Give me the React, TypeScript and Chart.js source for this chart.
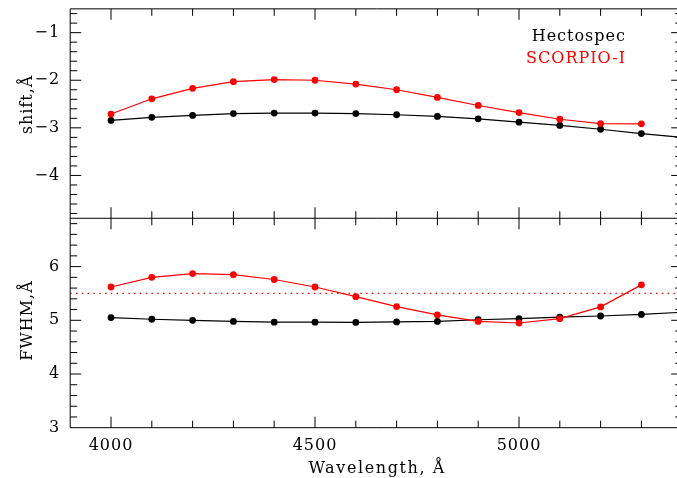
import { useEffect, useRef } from 'react';
import { Chart, registerables } from 'chart.js';

Chart.register(...registerables);

// ---- data ----
const WAVELENGTHS = [4000, 4100, 4200, 4300, 4400, 4500, 4600, 4700, 4800, 4900, 5000, 5100, 5200, 5300];
const HECTOSPEC_SHIFT = [-2.845, -2.78, -2.74, -2.7, -2.69, -2.69, -2.7, -2.725, -2.76, -2.81, -2.88, -2.95, -3.03, -3.12];
const SCORPIO_SHIFT = [-2.71, -2.39, -2.17, -2.03, -1.985, -2.0, -2.08, -2.2, -2.36, -2.53, -2.68, -2.82, -2.91, -2.915];
const HECTOSPEC_FWHM = [5.05, 5.02, 5.0, 4.98, 4.965, 4.965, 4.96, 4.97, 4.98, 5.01, 5.03, 5.06, 5.08, 5.11];
const SCORPIO_FWHM = [5.62, 5.8, 5.87, 5.85, 5.76, 5.62, 5.44, 5.255, 5.1, 4.98, 4.95, 5.03, 5.25, 5.66];
const HECTOSPEC_FIT_END_WAVE = 5400;
const HECTOSPEC_SHIFT_FIT_END = -3.2;
const HECTOSPEC_FWHM_FIT_END = 5.15;
const FWHM_REFERENCE = 5.5;

const X_RANGE = [3900, 5400];
const SHIFT_RANGE = [-4.9, -0.5];
const FWHM_RANGE = [3, 6.9];
const X_TICK_LABELS = [4000, 4500, 5000];
const SHIFT_TICK_LABELS = [-4, -3, -2, -1];
const FWHM_TICK_LABELS = [3, 4, 5, 6];
const SERIES_NAMES = ['Hectospec', 'SCORPIO-I'];
const X_TITLE = 'Wavelength, Å';
const SHIFT_TITLE = 'shift,Å';
const FWHM_TITLE = 'FWHM,Å';

const FONT = 'DejaVu Serif';
const RED = '#ff0000';
const BLACK = '#000000';

const toXY = (ys: number[]) => WAVELENGTHS.map((x, i) => ({ x, y: ys[i] }));

const fmt = (v: number) => (v < 0 ? '\u2212' + Math.abs(v) : String(v));

const framePlugin = {
  id: 'frame',
  beforeLayout(chart: any) {
    chart.ctx.letterSpacing = '1px';
  },
  beforeDraw(chart: any) {
    chart.ctx.letterSpacing = '1px';
  },
  afterDraw(chart: any) {
    const ctx = chart.ctx as CanvasRenderingContext2D;
    const { left, right, top, bottom } = chart.chartArea;
    const xs = chart.scales.x;
    const yS = chart.scales.yShift;
    const yF = chart.scales.yFwhm;
    const mid = yS.bottom;
    ctx.save();
    ctx.strokeStyle = BLACK;
    ctx.lineWidth = 1;
    ctx.beginPath();
    ctx.rect(left, top, right - left, bottom - top);
    ctx.moveTo(left, mid);
    ctx.lineTo(right, mid);
    ctx.stroke();

    ctx.beginPath();
    for (let v = X_RANGE[0] + 100; v < X_RANGE[1]; v += 100) {
      const px = xs.getPixelForValue(v);
      const len = v % 500 === 0 ? 11 : 7;
      ctx.moveTo(px, top);
      ctx.lineTo(px, top + len);
      ctx.moveTo(px, mid - len);
      ctx.lineTo(px, mid + len);
      ctx.moveTo(px, bottom - len);
      ctx.lineTo(px, bottom);
    }
    const yTicks = (scale: any, lo: number, hi: number) => {
      const i0 = Math.ceil(lo * 5 + 1e-6);
      const i1 = Math.floor(hi * 5 - 1e-6);
      for (let i = i0; i <= i1; i++) {
        const v = i / 5;
        const py = scale.getPixelForValue(v);
        const len = i % 5 === 0 ? 11 : 7;
        ctx.moveTo(left, py);
        ctx.lineTo(left + len, py);
        ctx.moveTo(right - len, py);
        ctx.lineTo(right, py);
      }
    };
    yTicks(yS, SHIFT_RANGE[0], SHIFT_RANGE[1]);
    yTicks(yF, FWHM_RANGE[0], FWHM_RANGE[1]);
    ctx.stroke();

    ctx.letterSpacing = '1px';
    ctx.font = `16px "${FONT}"`;
    ctx.textBaseline = 'alphabetic';
    ctx.textAlign = 'right';
    ctx.fillStyle = BLACK;
    ctx.fillText(SERIES_NAMES[0], 626, 40.5);
    ctx.fillStyle = RED;
    ctx.fillText(SERIES_NAMES[1], 626, 62.5);

    ctx.fillStyle = BLACK;
    ctx.textAlign = 'center';
    ctx.letterSpacing = '1.6px';
    ctx.fillText(X_TITLE, (left + right) / 2 + 1, 473.3);
    ctx.letterSpacing = '1px';

    ctx.save();
    ctx.translate(31.7, 104.5);
    ctx.rotate(-Math.PI / 2);
    ctx.fillText(SHIFT_TITLE, 0, 0);
    ctx.restore();
    ctx.save();
    ctx.translate(31.7, 320.5);
    ctx.rotate(-Math.PI / 2);
    ctx.fillText(FWHM_TITLE, 0, 0);
    ctx.restore();

    ctx.restore();
  },
};

export default function App() {
  const ref = useRef<HTMLCanvasElement | null>(null);

  useEffect(() => {
    if (!ref.current) return;
    const tickFont = { family: FONT, size: 16 };
    const pointR = (c: any) => (c.dataIndex < WAVELENGTHS.length ? 3.4 : 0);
    const noGrid = { display: false, drawTicks: false, tickLength: 0 };
    const fitY = (s: any) => {
      s.width = 70.2;
      s.paddingTop = 0;
      s.paddingBottom = 0;
      s.paddingLeft = 0;
      s.paddingRight = 0;
    };
    const chart = new Chart(ref.current, {
      type: 'line',
      data: {
        datasets: [
          {
            label: SERIES_NAMES[1] + ' shift',
            data: toXY(SCORPIO_SHIFT),
            yAxisID: 'yShift',
            borderColor: RED,
            backgroundColor: RED,
            borderWidth: 1.2,
            pointRadius: 3.4,
            pointBorderWidth: 0,
          },
          {
            label: SERIES_NAMES[1] + ' FWHM',
            data: toXY(SCORPIO_FWHM),
            yAxisID: 'yFwhm',
            borderColor: RED,
            backgroundColor: RED,
            borderWidth: 1.2,
            pointRadius: 3.4,
            pointBorderWidth: 0,
          },
          {
            label: SERIES_NAMES[0] + ' shift',
            data: [...toXY(HECTOSPEC_SHIFT), { x: HECTOSPEC_FIT_END_WAVE, y: HECTOSPEC_SHIFT_FIT_END }],
            yAxisID: 'yShift',
            borderColor: BLACK,
            backgroundColor: BLACK,
            borderWidth: 1.2,
            pointRadius: pointR,
            pointBorderWidth: 0,
          },
          {
            label: SERIES_NAMES[0] + ' FWHM',
            data: [...toXY(HECTOSPEC_FWHM), { x: HECTOSPEC_FIT_END_WAVE, y: HECTOSPEC_FWHM_FIT_END }],
            yAxisID: 'yFwhm',
            borderColor: BLACK,
            backgroundColor: BLACK,
            borderWidth: 1.2,
            pointRadius: pointR,
            pointBorderWidth: 0,
          },
          {
            label: 'reference',
            data: [
              { x: X_RANGE[0], y: FWHM_REFERENCE },
              { x: X_RANGE[1], y: FWHM_REFERENCE },
            ],
            yAxisID: 'yFwhm',
            borderColor: RED,
            borderWidth: 1.3,
            borderDash: [1.5, 4.3],
            pointRadius: 0,
          },
        ],
      },
      options: {
        animation: false,
        responsive: false,
        events: [],
        layout: { padding: { top: 8.85, left: 0, right: 7.8, bottom: 0 } },
        plugins: { legend: { display: false }, tooltip: { enabled: false } },
        scales: {
          x: {
            type: 'linear',
            min: X_RANGE[0],
            max: X_RANGE[1],
            grid: noGrid,
            border: { display: false },
            afterBuildTicks: (s: any) => {
              s.ticks = X_TICK_LABELS.map((v) => ({ value: v }));
            },
            afterFit: (s: any) => {
              s.height = 50.3;
              s.paddingTop = 0;
              s.paddingBottom = 0;
              s.paddingLeft = 0;
              s.paddingRight = 0;
            },
            ticks: {
              autoSkip: false,
              maxRotation: 0,
              padding: 9,
              color: BLACK,
              font: tickFont,
              callback: (v: any) => String(v),
            },
          },
          yFwhm: {
            type: 'linear',
            position: 'left',
            stack: 'panels',
            stackWeight: 1,
            min: FWHM_RANGE[0],
            max: FWHM_RANGE[1],
            grid: noGrid,
            border: { display: false },
            afterBuildTicks: (s: any) => {
              s.ticks = FWHM_TICK_LABELS.map((v) => ({ value: v }));
            },
            afterFit: fitY,
            ticks: { autoSkip: false, padding: 10, color: BLACK, font: tickFont, callback: (v: any) => fmt(v) },
          },
          yShift: {
            type: 'linear',
            position: 'left',
            stack: 'panels',
            stackWeight: 1,
            min: SHIFT_RANGE[0],
            max: SHIFT_RANGE[1],
            grid: noGrid,
            border: { display: false },
            afterBuildTicks: (s: any) => {
              s.ticks = SHIFT_TICK_LABELS.map((v) => ({ value: v }));
            },
            afterFit: fitY,
            ticks: { autoSkip: false, padding: 10, color: BLACK, font: tickFont, callback: (v: any) => fmt(v) },
          },
        },
      } as any,
      plugins: [framePlugin],
    });
    return () => chart.destroy();
  }, []);

  return (
    <div
      style={{
        position: 'fixed',
        left: 0,
        top: 0,
        width: 677,
        height: 478,
        overflow: 'hidden',
        background: '#fff',
      }}
    >
      <canvas ref={ref} width={690} height={478} style={{ display: 'block', width: 690, height: 478 }} />
    </div>
  );
}
